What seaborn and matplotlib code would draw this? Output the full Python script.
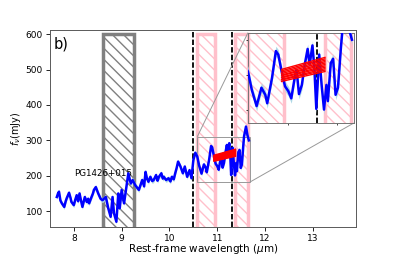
import numpy as np
import pandas as pd
import matplotlib
matplotlib.use("Agg")
import matplotlib.pyplot as plt
import seaborn as sns
from matplotlib.patches import Rectangle
from mpl_toolkits.axes_grid1.inset_locator import mark_inset

# spectrum
wave = [7.645, 7.67, 7.69, 7.72, 7.75, 7.80, 7.83, 7.85, 7.90, 7.93, 7.95, 8.00,
        8.03, 8.06, 8.09, 8.12, 8.15, 8.18, 8.23, 8.27, 8.30, 8.32, 8.37, 8.40,
        8.42, 8.46, 8.51, 8.56, 8.60, 8.67, 8.72, 8.77, 8.81,
        8.84, 8.89, 8.93, 8.96, 9.00, 9.05, 9.10, 9.14, 9.19, 9.23, 9.29, 9.36,
        9.40, 9.43, 9.47, 9.50, 9.53, 9.56, 9.60, 9.64, 9.67, 9.72, 9.75, 9.78,
        9.83, 9.86, 9.88, 9.93, 9.98, 10.02, 10.05, 10.09,
        10.12, 10.15, 10.18, 10.23, 10.28, 10.32, 10.37, 10.42, 10.46, 10.50, 10.54,
        10.58, 10.62, 10.67, 10.72, 10.76, 10.78, 10.83, 10.87, 10.895, 10.93,
        10.965, 11.00, 11.03, 11.07, 11.085, 11.11, 11.14, 11.17, 11.20, 11.22,
        11.25, 11.27, 11.29, 11.32, 11.345, 11.37, 11.395, 11.41, 11.44, 11.465,
        11.49, 11.515, 11.545, 11.56, 11.60, 11.63, 11.66]
flux = [140, 150, 155, 130, 122, 112, 128, 136, 152, 138, 126, 117,
        132, 145, 128, 150, 130, 112, 140, 126, 135, 122, 140, 150,
        160, 168, 150, 135, 131, 140, 108, 84, 140,
        94, 70, 150, 108, 160, 122, 169, 207, 178, 188, 172, 160,
        176, 188, 170, 211, 192, 183, 197, 185, 188, 202, 186, 197,
        207, 192, 197, 188, 193, 184, 197, 190,
        207, 222, 240, 226, 207, 226, 197, 216, 193, 245, 265,
        255, 229, 206, 232, 222, 210, 246, 284, 279, 255,
        234, 227, 217, 250, 257, 223, 236, 265, 287, 265,
        292, 259, 202, 279, 236, 201, 236, 213, 267, 273,
        222, 232, 288, 312, 339, 315, 300]
flux_err = 7

# excluded region, continuum windows, line markers
gray_box = (8.62, 9.25)
pink_boxes = [(10.58, 10.95), (11.38, 11.65)]
dashed_x = [10.49, 11.30]

# continuum fits (start / end flux)
fit_x = [10.93, 11.38]
fit_y0 = [241, 243, 244, 246, 247, 249, 250, 252, 254, 256, 258]
fit_y1 = [255, 257, 259, 261, 263, 265, 267, 269, 271, 273, 275]

df = pd.DataFrame({"wave": wave, "flux": flux})
lo = df["flux"] - flux_err
hi = df["flux"] + flux_err

fig = plt.figure(figsize=(3.96, 2.56), dpi=100)
ax = fig.add_axes([0.126, 0.113, 0.773, 0.77])


def draw(a, lw):
    a.add_patch(Rectangle((gray_box[0], 0), gray_box[1] - gray_box[0], 600,
                          fill=False, ec="gray", lw=2.5, hatch="\\\\\\", zorder=1))
    for x0, x1 in pink_boxes:
        a.add_patch(Rectangle((x0, 0), x1 - x0, 600, fill=False, ec="pink",
                              lw=2.5, hatch="\\\\\\", zorder=1))
    for x in dashed_x:
        a.axvline(x, color="k", ls=(0, (3, 1.2)), lw=1.3, zorder=2)
    a.fill_between(df["wave"], lo, hi, color="lightblue", lw=0, zorder=3)
    sns.lineplot(data=df, x="wave", y="flux", ax=a, color="blue", lw=lw,
                 estimator=None, sort=False, zorder=4)
    for y0, y1 in zip(fit_y0, fit_y1):
        a.plot(fit_x, [y0, y1], color="red", lw=1, zorder=5)


draw(ax, 1.8)
ax.set_xlim(7.5, 13.9)
ax.set_ylim(55, 612)
ax.set_xticks([8, 9, 10, 11, 12, 13])
ax.set_yticks([100, 200, 300, 400, 500, 600])
ax.tick_params(labelsize=6.5, length=3, width=0.6, pad=2)
ax.set_xlabel(r"Rest-frame wavelength ($\mu$m)", fontsize=7.5, labelpad=-0.5)
ax.set_ylabel(r"$f_\nu$(mJy)", fontsize=7, labelpad=2)
ax.text(0.012, 0.93, "b)", transform=ax.transAxes, fontsize=10.5, va="center")
ax.text(8.0, 205, "PG1426+015", fontsize=6.3, va="center")
for s in ax.spines.values():
    s.set_color("0.35")
    s.set_linewidth(0.7)

axins = ax.inset_axes([0.647, 0.528, 0.346, 0.458])
draw(axins, 1.8)
axins.set_xlim(10.58, 11.68)
axins.set_ylim(182, 310)
axins.set_xlabel("")
axins.set_ylabel("")
axins.set_xticklabels([])
axins.set_yticklabels([])
axins.tick_params(length=1.5, width=0.5)
for s in axins.spines.values():
    s.set_color("0.45")
    s.set_linewidth(0.7)
mark_inset(ax, axins, loc1=2, loc2=4, fc="none", ec="0.6", lw=0.7)

fig.savefig("out.png", dpi=100)
